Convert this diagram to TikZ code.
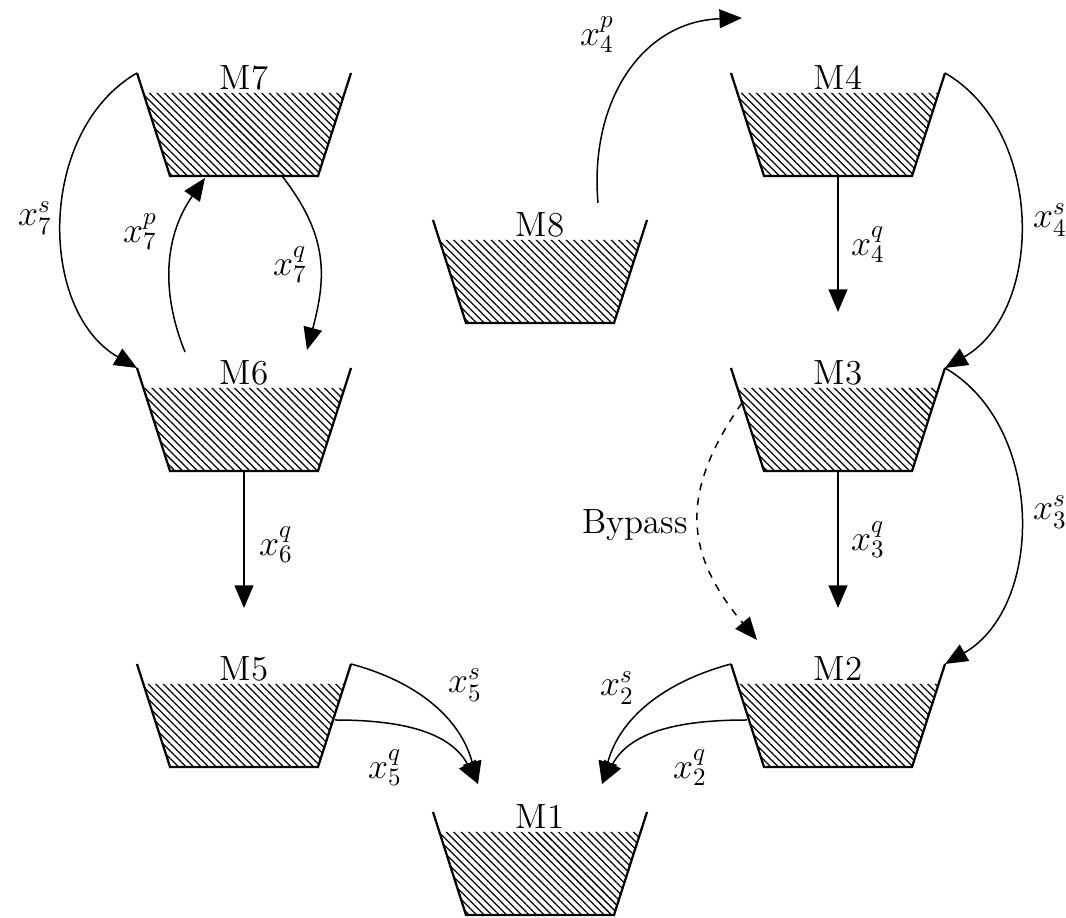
\documentclass[tikz,border=0pt]{standalone}
\usetikzlibrary{patterns.meta,arrows.meta}
\tikzset{
  outline/.style={line width=0.9pt, line join=miter},
  flow/.style={line width=0.6pt, -{Triangle[length=9pt,width=7.5pt]}},
  lbl/.style={font=\fontsize{14}{17}\selectfont, inner sep=0pt},
  res/.pic={
    \coordinate (-tl) at (-107,0);
    \coordinate (-tr) at (107,0);
    \coordinate (-bl) at (-74,-103);
    \coordinate (-br) at (74,-103);
    \coordinate (-b) at (0,-103);
    \fill[pattern={Lines[angle=-45,distance=2.12pt,line width=0.5pt]}] (-100.6,-20) -- (100.6,-20) -- (74,-103) -- (-74,-103) -- cycle;
    \draw[outline] (-tl) -- (-bl) -- (-br) -- (-tr);
    \node[lbl] (-lab) at (0,-5) {#1};
  }
}
\begin{document}
\begin{tikzpicture}[x=0.4pt,y=0.4pt]
\useasboundingbox (0,0) rectangle (1066,918);
% reservoirs
\pic (M7) at (244,845) {res=M7};
\pic (M4) at (838,845) {res=M4};
\pic (M8) at (540,698) {res=M8};
\pic (M6) at (244,550) {res=M6};
\pic (M3) at (838,550) {res=M3};
\pic (M5) at (244,254) {res=M5};
\pic (M2) at (838,254) {res=M2};
\pic (M1) at (540,106) {res=M1};
% connector end points
\coordinate (p7s) at (185,566);
\coordinate (p7e) at (205,740);
\coordinate (q7s) at (282,742);
\coordinate (q7e) at (307,568);
\coordinate (q6e) at (244,310);
\coordinate (q4e) at (838,606);
\coordinate (q3e) at (838,310);
\coordinate (q5s) at (335,198);
\coordinate (q2s) at (747,198);
\coordinate (t1L) at (478,134);
\coordinate (t1R) at (602,134);
\coordinate (bys) at (742,515);
\coordinate (bye) at (757,278);
\coordinate (p4s) at (598,715);
\coordinate (p4e) at (742,900);
% connectors
\draw[flow] (M7-tl) to[out=210,in=150] (M6-tl);
\draw[flow] (p7s) to[out=112,in=235] (p7e);
\draw[flow] (q7s) to[out=-52,in=75,looseness=1.1] (q7e);
\draw[flow] (M6-b) -- (q6e);
\draw[flow] (M5-tr) to[out=-15,in=105] (t1L);
\draw[flow] (q5s) to[out=0,in=118] (t1L);
\draw[flow] (M2-tl) to[out=195,in=75] (t1R);
\draw[flow] (q2s) to[out=180,in=62] (t1R);
\draw[flow,dashed] (bys) to[out=235,in=130,looseness=1.2] (bye);
\draw[flow] (p4s) to[out=95,in=182,looseness=1.1] (p4e);
\draw[flow] (M4-b) -- (q4e);
\draw[flow] (M4-tr) to[out=-30,in=30] (M3-tr);
\draw[flow] (M3-b) -- (q3e);
\draw[flow] (M3-tr) to[out=-30,in=30] (M2-tr);
% labels
\node[lbl] (l7s) at (35,700) {$x_7^s$};
\node[lbl] (l7p) at (140,686) {$x_7^p$};
\node[lbl] (l7q) at (290,653) {$x_7^q$};
\node[lbl] (l6q) at (276,373) {$x_6^q$};
\node[lbl] (l5s) at (465,233) {$x_5^s$};
\node[lbl] (l5q) at (385,150) {$x_5^q$};
\node[lbl] (l2s) at (617,230) {$x_2^s$};
\node[lbl] (l2q) at (690,150) {$x_2^q$};
\node[lbl] (lby) at (635,393) {Bypass};
\node[lbl] (l4p) at (597,883) {$x_4^p$};
\node[lbl] (l4q) at (868,673) {$x_4^q$};
\node[lbl] (l4s) at (1050,698) {$x_4^s$};
\node[lbl] (l3q) at (868,378) {$x_3^q$};
\node[lbl] (l3s) at (1050,406) {$x_3^s$};
\end{tikzpicture}
\end{document}
